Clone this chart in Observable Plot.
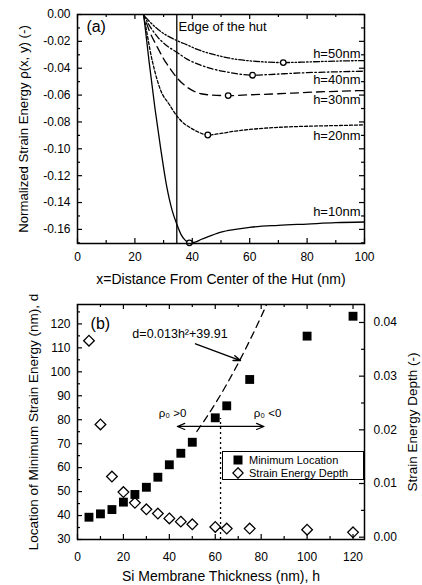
<!DOCTYPE html>
<html>
<head>
<meta charset="utf-8">
<script src="https://cdn.jsdelivr.net/npm/d3@7"></script>
<script src="https://cdn.jsdelivr.net/npm/@observablehq/plot@0.6"></script>
<style>
  html, body { margin: 0; padding: 0; background: #fff; }
  body { font-family: "Liberation Sans", Arial, sans-serif; }
  #wrap { position: relative; width: 422px; height: 585px; overflow: hidden; }
  .layer { position: absolute; left: 0; }
  #legend { position: absolute; left: 222px; top: 451px; width: 142px; height: 29px; box-sizing: border-box;
            border: 1.3px solid #000; background: #fff; font-size: 11px; color: #000; }
  #legend .row { position: absolute; left: 0; height: 13px; display: flex; align-items: center; }
  #legend svg { margin-left: 10px; margin-right: 6px; }
</style>
</head>
<body>
<div id="wrap">
  <div id="pa" class="layer" style="top:0"></div>
  <div id="pb1" class="layer" style="top:290px"></div>
  <div id="pb2" class="layer" style="top:290px"></div>
  <div id="legend">
    <div class="row" style="top:1.5px"><svg width="10" height="10"><rect x="0.5" y="0.5" width="9" height="9" fill="#000"/></svg><span>Minimum Location</span></div>
    <div class="row" style="top:14.5px"><svg width="12" height="12" style="margin-left:9px;margin-right:5px"><path d="M6,0.8 L11.2,6 L6,11.2 L0.8,6 Z" fill="none" stroke="#000" stroke-width="1.3"/></svg><span>Strain Energy Depth</span></div>
  </div>
</div>
<script>
// ---------------- Panel (a) data ----------------
const edgeX = 34.6;
const x10 = [21, 23, 25, 27, 29, 31, 33, 34.6, 36, 37.5, 39, 41, 43, 46, 50, 55, 60, 70, 80, 90, 100];
const y10 = [0.025, 0.0, -0.036, -0.07, -0.1, -0.127, -0.146, -0.156, -0.1635, -0.168, -0.170, -0.1695, -0.1675, -0.165, -0.162, -0.16, -0.1585, -0.157, -0.156, -0.155, -0.1545];
const x20 = [21, 23, 26, 29, 32, 34.6, 37, 39.5, 42, 45.4, 50, 55, 60, 70, 80, 90, 100];
const y20 = [0.02, 0, -0.034, -0.0566, -0.067, -0.0755, -0.081, -0.0845, -0.0875, -0.0897, -0.0885, -0.0868, -0.0856, -0.084, -0.0832, -0.0827, -0.0822];
const x30 = [21, 23, 25, 27.5, 30, 32.5, 35, 37.5, 40, 43, 47, 52.5, 60, 70, 80, 90, 100];
const y30 = [0.012, 0, -0.012, -0.023, -0.033, -0.041, -0.048, -0.053, -0.0565, -0.059, -0.0600, -0.0604, -0.0598, -0.059, -0.058, -0.0572, -0.0566];
const x40 = [21, 23, 25, 28, 31, 34.6, 38, 42, 47, 52, 56, 61, 66, 72, 80, 90, 100];
const y40 = [0.01, 0, -0.008, -0.017, -0.023, -0.0281, -0.033, -0.037, -0.0405, -0.0428, -0.0443, -0.0452, -0.0448, -0.0441, -0.0433, -0.0427, -0.0422];
const x50 = [21, 23, 25, 28, 31, 34.6, 38, 42, 47, 53, 59, 65, 71.7, 78, 85, 92, 100];
const y50 = [0.008, 0, -0.005, -0.011, -0.0155, -0.0194, -0.0225, -0.0262, -0.0295, -0.0325, -0.0343, -0.0353, -0.0358, -0.0355, -0.035, -0.0346, -0.0343];
const minX = [39, 45.4, 52.5, 61, 71.7];
const minY = [-0.170, -0.0897, -0.0604, -0.0452, -0.0358];
const hLabels = ["h=10nm", "h=20nm", "h=30nm", "h=40nm", "h=50nm"];
const hLabelX = [98.6, 98.6, 98.6, 98.6, 98.6];
const hLabelY = [-0.1466, -0.0902, -0.0633, -0.0484, -0.0291];
const xTicksA = [0, 20, 40, 60, 80, 100];
const xMinorA = [10, 30, 50, 70, 90];
const yTicksA = [0, -0.02, -0.04, -0.06, -0.08, -0.10, -0.12, -0.14, -0.16];
const yMinorA = [-0.01, -0.03, -0.05, -0.07, -0.09, -0.11, -0.13, -0.15, -0.17];

// ---------------- Panel (b) data ----------------
const hThick = [5, 10, 15, 20, 25, 30, 35, 40, 45, 50, 60, 65, 75, 100, 120];
const minLocation = [39.3, 40.7, 42.5, 45.6, 48.8, 51.8, 56.0, 61.2, 66.0, 70.6, 80.8, 85.8, 96.8, 114.9, 123.2];
const depth = [0.0366, 0.0210, 0.0113, 0.0084, 0.0064, 0.0052, 0.0044, 0.0035, 0.0029, 0.0024, 0.0019, 0.0016, 0.0016, 0.0014, 0.0009];
const fitH = [52, 60, 70, 80, 84];
const fitD = [75.1, 86.7, 103.6, 123.1, 131.6];
const splitH = 62.3, splitTop = 80.5, arrowD = 77.2, arrowLeft = 43.5, arrowRight = 81.2;
const xTicksB = [0, 20, 40, 60, 80, 100, 120];
const xMinorB = [10, 30, 50, 70, 90, 110];
const yTicksB = [30, 40, 50, 60, 70, 80, 90, 100, 110, 120];
const yMinorB = [35, 45, 55, 65, 75, 85, 95, 105, 115, 125];
const rTicksB = [0, 0.01, 0.02, 0.03, 0.04];
const rMinorB = [0.005, 0.015, 0.025, 0.035];

const FONT = '"Liberation Sans", Arial, sans-serif';
const STYLE = {fontFamily: FONT, fontSize: "12px", color: "#000", background: "transparent", overflow: "visible"};

function frameTicks(pw, ph, xMaj, xMin, yMaj, yMin, sides) {
  const M = 5, m = 3, out = [];
  const acc = d => d;
  if (sides.includes("b")) { out.push(Plot.tickX(xMaj, {x: acc, insetTop: ph - M, strokeWidth: 1.2}), Plot.tickX(xMin, {x: acc, insetTop: ph - m, strokeWidth: 1.2})); }
  if (sides.includes("t")) { out.push(Plot.tickX(xMaj, {x: acc, insetBottom: ph - M, strokeWidth: 1.2}), Plot.tickX(xMin, {x: acc, insetBottom: ph - m, strokeWidth: 1.2})); }
  if (sides.includes("l")) { out.push(Plot.tickY(yMaj, {y: acc, insetRight: pw - M, strokeWidth: 1.2}), Plot.tickY(yMin, {y: acc, insetRight: pw - m, strokeWidth: 1.2})); }
  if (sides.includes("r")) { out.push(Plot.tickY(yMaj, {y: acc, insetLeft: pw - M, strokeWidth: 1.2}), Plot.tickY(yMin, {y: acc, insetLeft: pw - m, strokeWidth: 1.2})); }
  return out;
}
function axisTitle(label, frameAnchor, opts) {
  return Plot.text([label], {frameAnchor, text: d => d, textAnchor: "middle", lineAnchor: "middle", fontSize: 13, ...opts});
}

// ---------------- Panel (a) ----------------
const series = [
  {x: x10, y: y10, dash: null},
  {x: x20, y: y20, dash: "3,2"},
  {x: x30, y: y30, dash: "8,5"},
  {x: x40, y: y40, dash: "6,2.5,1.5,2.5"},
  {x: x50, y: y50, dash: "6,2,1.5,2,1.5,2"}
];
const lineMarks = series.map(s => Plot.line(s.x.map((x, i) => ({x, y: s.y[i]})),
  {x: "x", y: "y", curve: "monotone-x", stroke: "#000", strokeWidth: 1.3, strokeDasharray: s.dash, clip: true}));
const minPts = minX.map((x, i) => ({x, y: minY[i]}));
const labA = hLabels.map((t, i) => ({t, x: hLabelX[i], y: hLabelY[i]}));

const pa = Plot.plot({
  width: 422, height: 290, marginTop: 14, marginBottom: 47, marginLeft: 77, marginRight: 58,
  style: STYLE,
  x: {domain: [0, 100]},
  y: {domain: [-0.1705, 0]},
  marks: [
    Plot.axisX({anchor: "bottom", ticks: xTicksA, tickSize: 0, tickPadding: 9, tickFormat: d => String(d), label: null}),
    Plot.axisY({anchor: "left", ticks: yTicksA, tickSize: 0, tickPadding: 7, tickFormat: d => d.toFixed(2), label: null}),
    ...frameTicks(287, 229, xTicksA, xMinorA, yTicksA, yMinorA, "btlr"),
    Plot.ruleX([edgeX], {x: d => d, stroke: "#000", strokeWidth: 1.3}),
    ...lineMarks,
    Plot.dot(minPts, {x: "x", y: "y", r: 2.8, fill: "#fff", stroke: "#000", strokeWidth: 1.3}),
    Plot.text(labA, {x: "x", y: "y", text: "t", textAnchor: "end", fontSize: 13}),
    Plot.text(["Edge of the hut"], {x: edgeX + 0.6, y: -0.0095, text: d => d, textAnchor: "start", fontSize: 13}),
    Plot.text(["(a)"], {x: 3.1, y: -0.0095, text: d => d, textAnchor: "start", fontSize: 16}),
    Plot.frame({stroke: "#000", strokeWidth: 1.5}),
    axisTitle("Normalized Strain Energy \u03c1(x, y) (-)", "left", {rotate: -90, dx: -54, fontSize: 13.2}),
    axisTitle("x=Distance From Center of the Hut (nm)", "bottom", {dy: 36, fontSize: 14})
  ]
});
document.getElementById("pa").appendChild(pa);

// ---------------- Panel (b) left scale ----------------
const sq = hThick.map((h, i) => ({h, d: minLocation[i]}));
const fit = fitH.map((h, i) => ({h, d: fitD[i]}));
const pb1 = Plot.plot({
  width: 422, height: 295, marginTop: 14, marginBottom: 46, marginLeft: 77, marginRight: 58,
  style: STYLE,
  x: {domain: [0, 125]},
  y: {domain: [30, 128.1]},
  marks: [
    Plot.axisX({anchor: "bottom", ticks: xTicksB, tickSize: 0, tickPadding: 13, tickFormat: d => String(d), label: null}),
    Plot.axisY({anchor: "left", ticks: yTicksB, tickSize: 0, tickPadding: 7, tickFormat: d => String(d), label: null}),
    ...frameTicks(287, 235, xTicksB, xMinorB, yTicksB, yMinorB, "btl"),
    Plot.line(fit, {x: "h", y: "d", curve: "monotone-x", stroke: "#000", strokeWidth: 1.3, strokeDasharray: "7,5", clip: true}),
    Plot.ruleX([splitH], {x: d => d, y1: 30, y2: splitTop, stroke: "#000", strokeWidth: 1.3, strokeDasharray: "2,3"}),
    Plot.arrow([{x1: splitH, x2: arrowLeft}, {x1: splitH, x2: arrowRight}],
      {x1: "x1", x2: "x2", y1: arrowD, y2: arrowD, stroke: "#000", strokeWidth: 1.2, headLength: 10, headAngle: 45}),
    Plot.arrow([{x1: 51.4, y1: 111.7, x2: 71.0, y2: 104.7}],
      {x1: "x1", y1: "y1", x2: "x2", y2: "y2", stroke: "#000", strokeWidth: 1.4, headLength: 8, headAngle: 40}),
    Plot.text(["d=0.013h\u00b2+39.91"], {x: 23.9, y: 115.9, text: d => d, textAnchor: "start", fontSize: 12.5}),
    Plot.text(["\u03c1\u2080 >0"], {x: 35.4, y: 82.6, text: d => d, textAnchor: "start", fontSize: 11.5}),
    Plot.text(["\u03c1\u2080 <0"], {x: 76.8, y: 82.6, text: d => d, textAnchor: "start", fontSize: 11.5}),
    Plot.text(["(b)"], {x: 5.7, y: 120, text: d => d, textAnchor: "start", fontSize: 16}),
    Plot.dot(sq, {x: "h", y: "d", symbol: "square", r: 5, fill: "#000", stroke: null}),
    Plot.frame({stroke: "#000", strokeWidth: 1.5}),
    axisTitle("Location of Minimum Strain Energy (nm), d", "left", {rotate: -90, dx: -44, fontSize: 13.5}),
    axisTitle("Si Membrane Thickness (nm), h", "bottom", {dy: 37, fontSize: 14})
  ]
});
document.getElementById("pb1").appendChild(pb1);

// ---------------- Panel (b) right scale ----------------
const dia = hThick.map((h, i) => ({h, v: depth[i]}));
const pb2 = Plot.plot({
  width: 422, height: 295, marginTop: 14, marginBottom: 46, marginLeft: 77, marginRight: 58,
  style: STYLE,
  x: {domain: [0, 125], axis: null},
  y: {domain: [-0.00043, 0.04335]},
  marks: [
    Plot.axisY({anchor: "right", ticks: rTicksB, tickSize: 0, tickPadding: 9, tickFormat: d => d.toFixed(2), label: null}),
    ...frameTicks(287, 235, [], [], rTicksB, rMinorB, "r"),
    Plot.dot(dia, {x: "h", y: "v", symbol: "diamond2", r: 4.8, fill: "none", stroke: "#000", strokeWidth: 1.3}),
    axisTitle("Strain Energy Depth (-)", "right", {rotate: -90, dx: 48, fontSize: 13.5})
  ]
});
document.getElementById("pb2").appendChild(pb2);
</script>
</body>
</html>
